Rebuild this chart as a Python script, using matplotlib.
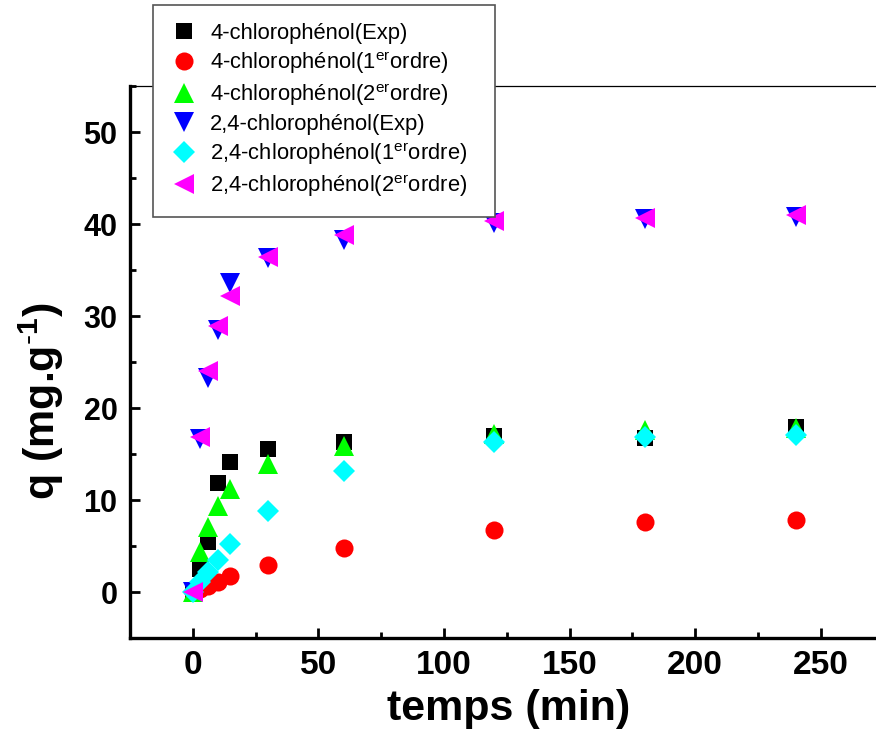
import numpy as np
import matplotlib
matplotlib.use("Agg")
import matplotlib.pyplot as plt
from matplotlib.ticker import MultipleLocator

plt.rcParams['font.family'] = ['Liberation Sans', 'DejaVu Sans']
plt.rcParams['mathtext.fontset'] = 'custom'
plt.rcParams['mathtext.rm'] = 'Liberation Sans'
plt.rcParams['mathtext.bf'] = 'Liberation Sans:bold'

# temps (min)
t = np.array([0, 3, 6, 10, 15, 30, 60, 120, 180, 240])

# 4-chlorophenol
cp4_exp = np.array([0, 2.5, 5.4, 11.8, 14.1, 15.5, 16.3, 17.0, 16.7, 17.9])
cp4_o1 = np.array([0, 0.3, 0.6, 1.1, 1.7, 2.9, 4.8, 6.7, 7.6, 7.8])
cp4_o2 = np.array([0, 4.4, 7.1, 9.4, 11.2, 13.9, 15.9, 17.2, 17.6, 17.8])

# 2,4-chlorophenol
cp24_exp = np.array([0, 16.6, 23.3, 28.5, 33.6, 36.3, 38.3, 40.1, 40.5, 40.8])
cp24_o1 = np.array([0, 1.1, 2.2, 3.5, 5.2, 8.8, 13.1, 16.3, 16.9, 17.1])
cp24_o2 = np.array([0, 16.8, 24.0, 28.9, 32.2, 36.4, 38.8, 40.3, 40.7, 41.0])

labels = ['4-chlorophénol(Exp)',
          r'4-chlorophénol(1$^{\mathrm{er}}$ordre)',
          r'4-chlorophénol(2$^{\mathrm{er}}$ordre)',
          '2,4-chlorophénol(Exp)',
          r'2,4-chlorophénol(1$^{\mathrm{er}}$ordre)',
          r'2,4-chlorophénol(2$^{\mathrm{er}}$ordre)']

fig = plt.figure(figsize=(8.76, 7.42), dpi=100)
ax = fig.add_axes([130/876, 1-638/742, 746/876, 552/742])

series = [cp4_exp, cp4_o1, cp4_o2, cp24_exp, cp24_o1, cp24_o2]
markers = ['s', 'o', '^', 'v', 'D', '<']
sizes = [11.5, 13, 15, 15, 11, 15]
colors = ['#000000', '#ff0000', '#00ff00', '#0000ff', '#00ffff', '#ff00ff']

for y, m, s, c, lab in zip(series, markers, sizes, colors, labels):
    ax.plot(t, y, linestyle='None', marker=m, markersize=s, color=c,
            markeredgewidth=0, label=lab)

ax.set_xlim(-25, 272)
ax.set_ylim(-5, 55)
ax.xaxis.set_major_locator(MultipleLocator(50))
ax.xaxis.set_minor_locator(MultipleLocator(25))
ax.yaxis.set_major_locator(MultipleLocator(10))
ax.yaxis.set_minor_locator(MultipleLocator(5))

ax.spines['left'].set_linewidth(2.4)
ax.spines['bottom'].set_linewidth(2.4)
ax.spines['top'].set_linewidth(0.9)
ax.spines['right'].set_visible(False)

ax.tick_params(which='major', direction='in', length=7, width=2, top=False, right=False, pad=9)
ax.tick_params(which='minor', direction='in', length=4.5, width=2, top=False, right=False)

for lab in ax.get_yticklabels():
    lab.set_fontsize(22)
    lab.set_fontweight('bold')
for lab in ax.get_xticklabels():
    lab.set_fontsize(24)
    lab.set_fontweight('bold')

ax.set_xlabel('temps (min)', fontsize=31, fontweight='bold')
ax.xaxis.set_label_coords(0.507, -0.093)
ax.set_ylabel('q (mg.g$^{\u2010\\mathbf{1}}$)', fontsize=31, fontweight='bold')
ax.yaxis.set_label_coords(-0.086, 0.43)

leg = ax.legend(loc='upper left', bbox_to_anchor=(153/876, 1-210/742, 342/876, 205/742),
                bbox_transform=fig.transFigure, mode='expand', borderaxespad=0,
                fontsize=15.8, frameon=True, fancybox=False, labelspacing=0.26,
                handletextpad=0.6, handlelength=1.2, borderpad=0.8, framealpha=1)
leg.get_frame().set_edgecolor('#555555')
leg.get_frame().set_linewidth(1.2)
leg.set_zorder(5)

fig.savefig('out.png', dpi=100)
